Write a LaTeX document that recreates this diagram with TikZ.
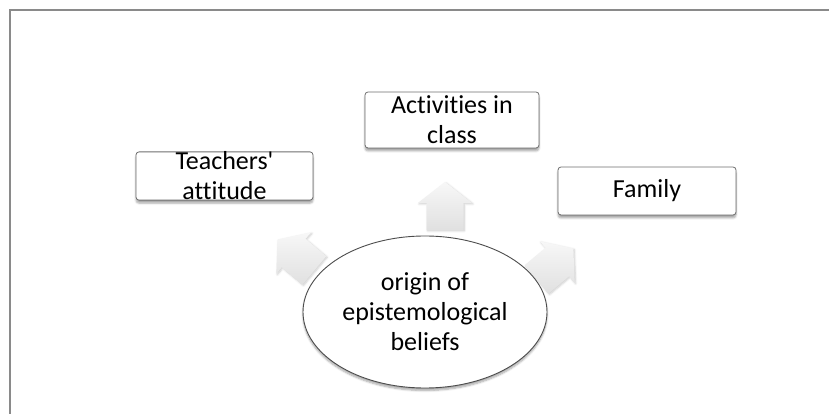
\documentclass[tikz,border=0pt]{standalone}
\usepackage{fontspec}
\setmainfont{Carlito}[Ligatures=CommonOff]
\usetikzlibrary{shapes.geometric,shadows.blur}
\definecolor{framegray}{HTML}{8A8A8A}
\definecolor{edgegray}{HTML}{6E6E6E}
\tikzset{
  every node/.style={inner sep=0pt, font=\fontsize{26}{30}\selectfont, align=center},
  topicbox/.style={draw=edgegray, line width=0.8pt, fill=white, rounded corners=3pt,
    blur shadow={shadow xshift=0pt, shadow yshift=-3pt, shadow blur steps=6, shadow opacity=35}},
  corebubble/.style={ellipse, draw=black!70, line width=0.9pt, fill=white,
    minimum width=244pt, minimum height=152pt,
    blur shadow={shadow xshift=0pt, shadow yshift=-2.5pt, shadow blur steps=6, shadow opacity=35}},
  blockarrow/.style={top color=gray!6, bottom color=gray!24, draw=none,
    blur shadow={shadow xshift=1pt, shadow yshift=-1pt, shadow blur steps=5, shadow opacity=20}}
}
\newcommand{\blockarrowpath}{(-24,-18.5) -- (3,-18.5) -- (3,-27) -- (24,0) -- (3,27) -- (3,18.5) -- (-24,18.5) -- cycle}
\begin{document}
\begin{tikzpicture}[x=1pt, y=1pt]
  \useasboundingbox (0,0) rectangle (829,414);
  % page frame (left and top edges)
  \draw[framegray, line width=2pt] (10,0) -- (10,404) -- (829,404);

  % outward block arrows
  \begin{scope}[shift={(445,208)}, rotate=90]
    \path[blockarrow] \blockarrowpath;
  \end{scope}
  \begin{scope}[shift={(296,159)}, rotate=140]
    \path[blockarrow] \blockarrowpath;
  \end{scope}
  \begin{scope}[shift={(555,150)}, rotate=40]
    \path[blockarrow] \blockarrowpath;
  \end{scope}

  % topic boxes
  \node[topicbox, minimum width=177pt, minimum height=48pt] (teachers) at (224.5,238) {Teachers\textquotesingle\\attitude};
  \node[topicbox, minimum width=174pt, minimum height=56pt] (activities) at (452,294) {Activities in\\class};
  \node[topicbox, minimum width=178pt, minimum height=48pt] (family) at (647,223) {Family};

  % central bubble
  \node[corebubble] (origin) at (425,102) {origin of\\epistemological\\beliefs};
\end{tikzpicture}
\end{document}
